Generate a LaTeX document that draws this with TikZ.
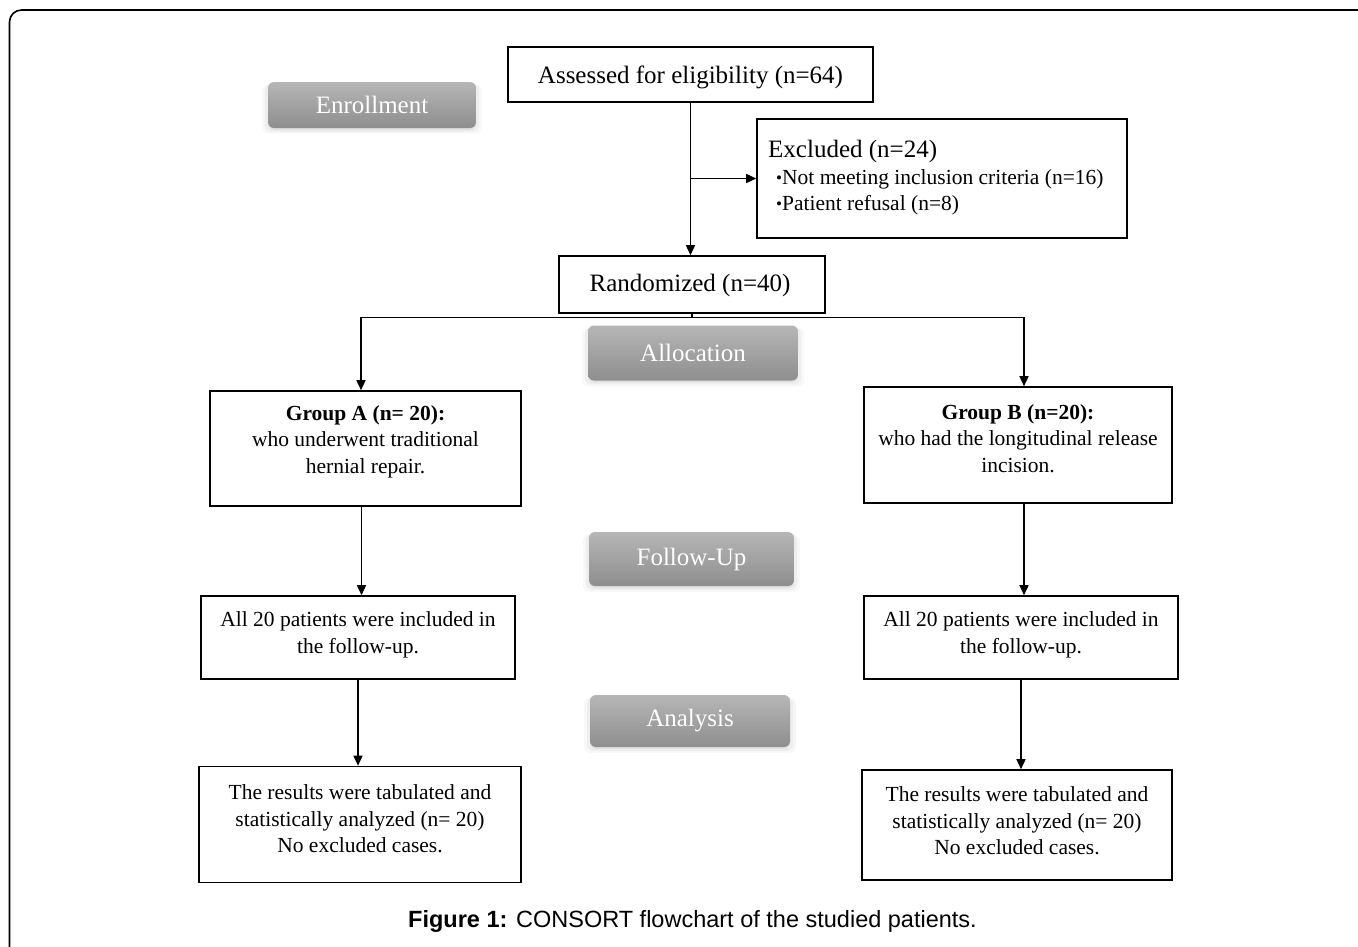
\documentclass[tikz,border=0pt]{standalone}
\usepackage{fontspec}
\setmainfont{Liberation Serif}
\newfontfamily\capfont{Liberation Sans}
\usetikzlibrary{arrows.meta,shadows,calc}
\definecolor{gtop}{RGB}{182,182,182}
\definecolor{gbot}{RGB}{142,142,142}
\tikzset{
  box/.style={draw=black, line width=1.6pt, rectangle, inner sep=0pt, fill=white},
  bigtxt/.style={font=\fontsize{25}{30}\selectfont, align=center},
  smalltxt/.style={font=\fontsize{21.5}{26.5}\selectfont, align=center},
  arr/.style={line width=1.5pt, -{Triangle[length=10pt,width=9pt]}},
  conn/.style={line width=1.5pt},
  phase/.style={rounded corners=6pt, top color=gtop, bottom color=gbot, draw=none,
    text=white, font=\fontsize{25}{30}\selectfont, inner sep=0pt,
    drop shadow={shadow xshift=0pt, shadow yshift=-4pt, opacity=0.06, shadow scale=1.06},
    drop shadow={shadow xshift=0pt, shadow yshift=-3pt, opacity=0.08, shadow scale=1.03},
    drop shadow={shadow xshift=0pt, shadow yshift=-2pt, opacity=0.12, shadow scale=1.0}},
}
\newcommand{\blt}{{\fontsize{17}{17}\selectfont\raisebox{1pt}{•}}}
\begin{document}
\begin{tikzpicture}[x=1pt,y=-1pt]
\useasboundingbox (0,0) rectangle (1358,946);
% outer frame (top and left edges only)
\draw[line width=1.6pt, rounded corners=12pt] (9.5,950) -- (9.5,10) -- (1362,10);

% phase labels
\node[phase, minimum width=208pt, minimum height=46pt] (enroll) at (372,105) {Enrollment};
\node[phase, minimum width=210pt, minimum height=55pt] (alloc) at (693,353) {Allocation};
\node[phase, minimum width=205pt, minimum height=54pt] (fup) at (691.5,559) {Follow-Up};
\node[phase, minimum width=200pt, minimum height=52pt] (anal) at (690,721) {Analysis};

% top boxes
\node[box, minimum width=365pt, minimum height=55pt] (assess) at (690.5,74.5) {};
\node[bigtxt] (assesst) at (690.5,77) {Assessed for eligibility (n=64)};
\node[box, minimum width=370pt, minimum height=119pt] (excl) at (942,178.5) {};
\node[anchor=west, align=left, inner sep=0pt, font=\fontsize{21.5}{26.5}\selectfont] (exclt) at (768,178)
  {{\fontsize{25}{26.5}\selectfont Excluded (n=24)}\\
   \hspace*{8pt}\blt Not meeting inclusion criteria (n=16)\\
   \hspace*{8pt}\blt Patient refusal (n=8)};
\node[box, minimum width=266pt, minimum height=57pt] (rand) at (692,284.5) {};
\node[bigtxt] (randt) at (690,285.5) {Randomized (n=40)};

% group boxes
\node[box, minimum width=311pt, minimum height=115pt] (gA) at (365.5,448.5) {};
\node[smalltxt] (gAt) at (365.5,441.5) {\textbf{Group A (n= 20):}\\who underwent traditional\\hernial repair.};
\node[box, minimum width=308pt, minimum height=116pt] (gB) at (1018,445) {};
\node[smalltxt] (gBt) at (1018,438.5) {\textbf{Group B (n=20):}\\who had the longitudinal release\\incision.};

% follow-up boxes
\node[box, minimum width=314pt, minimum height=83pt] (fA) at (358,637.5) {};
\node[smalltxt] (fAt) at (358,635) {All 20 patients were included in\\the follow-up.};
\node[box, minimum width=314pt, minimum height=83pt] (fB) at (1021,637.5) {};
\node[smalltxt] (fBt) at (1021,635) {All 20 patients were included in\\the follow-up.};

% result boxes
\node[box, minimum width=322pt, minimum height=116pt] (rA) at (360,824.5) {};
\node[smalltxt] (rAt) at (360,819) {The results were tabulated and\\statistically analyzed (n= 20)\\No excluded cases.};
\node[box, minimum width=310pt, minimum height=110pt] (rB) at (1017,825) {};
\node[smalltxt] (rBt) at (1017,821) {The results were tabulated and\\statistically analyzed (n= 20)\\No excluded cases.};

% connectors
\draw[arr] (assess.south) -- (assess.south |- rand.north);
\coordinate (br) at (assess.south |- excl.west);
\draw[arr] (br) -- (excl.west);
\coordinate (split) at ($(rand.south)+(0,4.5)$);
\draw[conn] (rand.south) -- (split);
\coordinate (colA) at (361,317.5);
\coordinate (colB) at (1024,317.5);
\draw[arr] (colA) -- (colA |- gA.north);
\draw[arr] (colB) -- (colB |- gB.north);
\draw[conn] ([xshift=-0.75pt]colA) -- ([xshift=0.75pt]colB);
\draw[arr] ([xshift=-4pt]gA.south) -- ([xshift=-4pt]gA.south |- fA.north);
\draw[arr] (fA.south) -- (fA.south |- rA.north);
\draw[arr] ([xshift=6pt]gB.south) -- ([xshift=6pt]gB.south |- fB.north);
\draw[arr] (fB.south) -- (fB.south |- rB.north);

% caption
\node[font=\capfont\fontsize{23.5}{28}\selectfont, inner sep=0pt] (cap) at (692.5,921)
  {\textbf{Figure 1:} CONSORT flowchart of the studied patients.};
\end{tikzpicture}
\end{document}
